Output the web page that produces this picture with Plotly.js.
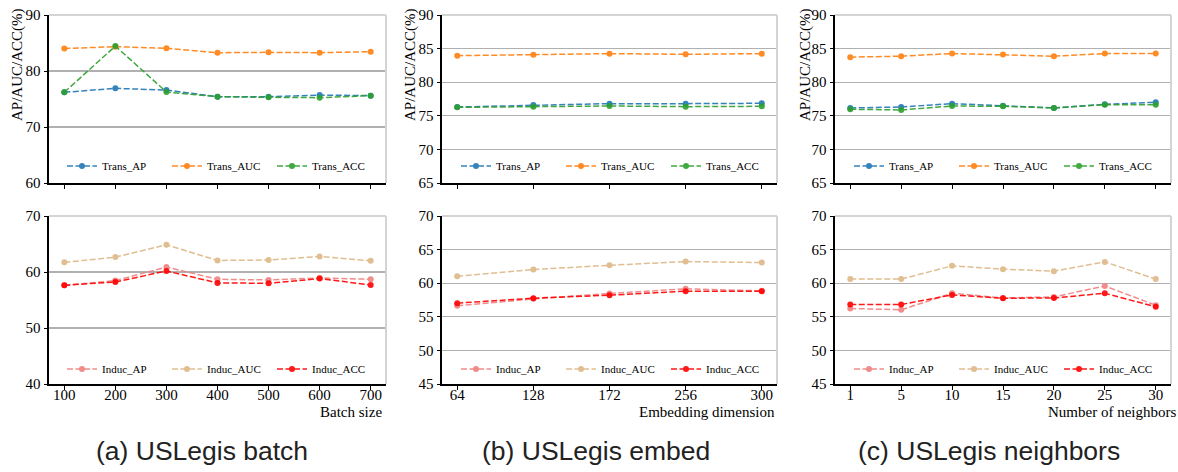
<!DOCTYPE html>
<html><head><meta charset="utf-8">
<script src="https://cdn.plot.ly/plotly-3.0.1.min.js"></script>
<style>html,body{margin:0;padding:0;background:#fff}#chart{width:1178px;height:472px}</style>
</head><body><div id="chart"></div>
<script>
// ---- data: (a) batch size ----
const batchSizes = [100, 200, 300, 400, 500, 600, 700];
const batchTransAP  = [76.2, 76.9, 76.6, 75.4, 75.4, 75.7, 75.6];
const batchTransAUC = [84.0, 84.35, 84.05, 83.27, 83.33, 83.27, 83.45];
const batchTransACC = [76.2, 84.45, 76.25, 75.42, 75.3, 75.24, 75.6];
const batchInducAP  = [57.63, 58.46, 60.89, 58.7, 58.58, 58.93, 58.7];
const batchInducAUC = [61.72, 62.66, 64.85, 62.07, 62.13, 62.78, 62.01];
const batchInducACC = [57.63, 58.22, 60.18, 58.05, 57.99, 58.82, 57.69];

// ---- data: (b) embedding dimension ----
const embedDims = ['64', '128', '172', '256', '300'];
const embedTransAP  = [76.31, 76.61, 76.81, 76.81, 76.86];
const embedTransAUC = [83.95, 84.1, 84.25, 84.15, 84.25];
const embedTransACC = [76.26, 76.36, 76.46, 76.36, 76.41];
const embedInducAP  = [56.63, 57.67, 58.47, 59.16, 58.86];
const embedInducAUC = [61.04, 62.03, 62.67, 63.22, 63.07];
const embedInducACC = [57.03, 57.77, 58.22, 58.81, 58.81];

// ---- data: (c) number of neighbors ----
const neighborCounts = ['1', '5', '10', '15', '20', '25', '30'];
const nbrTransAP  = [76.17, 76.31, 76.81, 76.51, 76.17, 76.71, 77.01];
const nbrTransAUC = [83.73, 83.87, 84.27, 84.12, 83.87, 84.27, 84.27];
const nbrTransACC = [75.97, 75.87, 76.46, 76.41, 76.17, 76.66, 76.66];
const nbrInducAP  = [56.24, 56.04, 58.5, 57.81, 57.96, 59.58, 56.73];
const nbrInducAUC = [60.61, 60.61, 62.58, 62.09, 61.79, 63.17, 60.61];
const nbrInducACC = [56.83, 56.83, 58.26, 57.76, 57.81, 58.5, 56.49];

// ---- labels ----
const transNames = ['Trans_AP', 'Trans_AUC', 'Trans_ACC'];
const inducNames = ['Induc_AP', 'Induc_AUC', 'Induc_ACC'];
const xTitles = ['Batch size', 'Embedding dimension', 'Number of neighbors'];
const captions = ['(a) USLegis batch', '(b) USLegis embed', '(c) USLegis neighbors'];
const yTitle = 'AP/AUC/ACC(%)';

const transColors = ['#1f77b4', '#ff7f0e', '#2ca02c'];
const inducColors = ['#f08080', '#deb887', '#ff0000'];

const SERIF = 'Liberation Serif, Times New Roman, serif';
const SANS = 'Liberation Sans, Arial, sans-serif';

const W = 1178, H = 472;
const px = v => v / W;
const py = v => 1 - v / H;

const traces = [];
function addSeries(xs, ys, name, color, xa, ya, legend, op) {
  traces.push({
    x: xs, y: ys, name: name, type: 'scatter', mode: 'lines+markers',
    xaxis: xa, yaxis: ya, legend: legend,
    line: {color: color, width: 1.5, dash: '6px,2.5px'},
    marker: {color: color, size: 6, symbol: 'circle'},
    opacity: op
  });
}
const panels = [
  {xs: batchSizes, top: [batchTransAP, batchTransAUC, batchTransACC], bot: [batchInducAP, batchInducAUC, batchInducACC]},
  {xs: embedDims, top: [embedTransAP, embedTransAUC, embedTransACC], bot: [embedInducAP, embedInducAUC, embedInducACC]},
  {xs: neighborCounts, top: [nbrTransAP, nbrTransAUC, nbrTransACC], bot: [nbrInducAP, nbrInducAUC, nbrInducACC]}
];
panels.forEach((p, i) => {
  const tIdx = i + 1, bIdx = i + 4;
  const tx = tIdx === 1 ? 'x' : 'x' + tIdx, ty = tIdx === 1 ? 'y' : 'y' + tIdx;
  const bx = 'x' + bIdx, by = 'y' + bIdx;
  const tl = tIdx === 1 ? 'legend' : 'legend' + tIdx, bl = 'legend' + bIdx;
  p.top.forEach((ys, k) => addSeries(p.xs, ys, transNames[k], transColors[k], tx, ty, tl, 0.9));
  p.bot.forEach((ys, k) => addSeries(p.xs, ys, inducNames[k], inducColors[k], bx, by, bl, 0.9));
});

const xDomains = [[px(49), px(386)], [px(442), px(777)], [px(835), px(1171)]];
const topDomain = [py(183), py(15)];
const botDomain = [py(384), py(216)];
const yRangesTop = [[60, 90], [65, 90], [65, 90]];
const yRangesBot = [[40, 70], [45, 70], [45, 70]];
const yDtick = [10, 5, 5];
const xRanges = [[70, 730], [-0.2, 4.2], [-0.3, 6.3]];

const layout = {
  width: W, height: H,
  margin: {l: 0, r: 0, t: 0, b: 0},
  paper_bgcolor: '#fff', plot_bgcolor: '#fff',
  showlegend: true,
  font: {family: SERIF, size: 15, color: '#000'},
  shapes: [], annotations: []
};

function xAxis(i, domain, anchor, labels) {
  const a = {
    domain: domain, anchor: anchor, range: xRanges[i],
    showgrid: false, zeroline: false,
    showline: true, linecolor: '#000', linewidth: 2,
    ticks: 'outside', ticklen: 3.5, tickwidth: 1, tickcolor: '#000',
    showticklabels: labels, ticklabelstandoff: -8,
    tickfont: {family: SERIF, size: 15, color: '#000'},
    fixedrange: true
  };
  if (i === 0) { a.type = 'linear'; a.tickvals = batchSizes; }
  else { a.type = 'category'; }
  return a;
}
function yAxis(range, dtick, anchor, domain) {
  return {
    domain: domain, anchor: anchor, range: range,
    tick0: 0, dtick: dtick,
    showgrid: true, gridcolor: '#b0b0b0', gridwidth: 1.3,
    zeroline: false,
    showline: true, linecolor: '#000', linewidth: 2,
    ticks: 'outside', ticklen: 3.5, tickwidth: 1, tickcolor: '#000',
    tickfont: {family: SERIF, size: 15, color: '#000'},
    fixedrange: true
  };
}

for (let i = 0; i < 3; i++) {
  const tIdx = i + 1, bIdx = i + 4;
  const tN = tIdx === 1 ? '' : String(tIdx);
  layout['xaxis' + tN] = xAxis(i, xDomains[i], 'y' + tN, false);
  layout['yaxis' + tN] = yAxis(yRangesTop[i], yDtick[i], 'x' + tN, topDomain);
  layout['xaxis' + bIdx] = xAxis(i, xDomains[i], 'y' + bIdx, true);
  layout['yaxis' + bIdx] = yAxis(yRangesBot[i], yDtick[i], 'x' + bIdx, botDomain);

  [[tN, 'x' + tN, 'y' + tN], [String(bIdx), 'x' + bIdx, 'y' + bIdx]].forEach(([n, xa, ya]) => {
    const xr = xa + ' domain', yr = ya + ' domain';
    layout.shapes.push({type: 'line', xref: xr, yref: yr, x0: 0, x1: 1, y0: 1, y1: 1,
      line: {color: '#d4d4d4', width: 2}, layer: 'above'});
    layout.shapes.push({type: 'line', xref: xr, yref: yr, x0: 1, x1: 1, y0: 0, y1: 1,
      line: {color: '#d4d4d4', width: 2}, layer: 'above'});
  });
}

const legendX = [px(62), px(456), px(849)];
for (let i = 0; i < 3; i++) {
  const tName = i === 0 ? 'legend' : 'legend' + (i + 1);
  const bName = 'legend' + (i + 4);
  const base = {orientation: 'h', xref: 'paper', yref: 'paper', xanchor: 'left', yanchor: 'middle',
    bgcolor: 'rgba(0,0,0,0)', borderwidth: 0,
    font: {family: SERIF, size: 11, color: '#000'},
    entrywidth: 60, entrywidthmode: 'pixels', itemwidth: 30, itemclick: false, itemdoubleclick: false};
  layout[tName] = Object.assign({}, base, {x: legendX[i], y: py(166)});
  layout[bName] = Object.assign({}, base, {x: legendX[i], y: py(369)});
}

const yTitleX = [18, 411, 806];
const xTitleRight = [384, 777, 1178];
const captionX = [202, 596, 989];
for (let i = 0; i < 3; i++) {
  layout.annotations.push({text: yTitle, xref: 'paper', yref: 'paper', x: px(yTitleX[i]), y: py(65),
    xanchor: 'center', yanchor: 'middle', textangle: -90, showarrow: false,
    font: {family: SERIF, size: 15, color: '#000'}});
  layout.annotations.push({text: xTitles[i], xref: 'paper', yref: 'paper', x: px(xTitleRight[i]), y: py(412),
    xanchor: 'right', yanchor: 'middle', showarrow: false,
    font: {family: SERIF, size: 15, color: '#000'}});
  layout.annotations.push({text: captions[i], xref: 'paper', yref: 'paper', x: px(captionX[i]), y: py(451),
    xanchor: 'center', yanchor: 'middle', showarrow: false,
    font: {family: SANS, size: 26.5, color: '#222'}});
}

Plotly.newPlot('chart', traces, layout, {displayModeBar: false, staticPlot: true});
</script>
</body></html>
